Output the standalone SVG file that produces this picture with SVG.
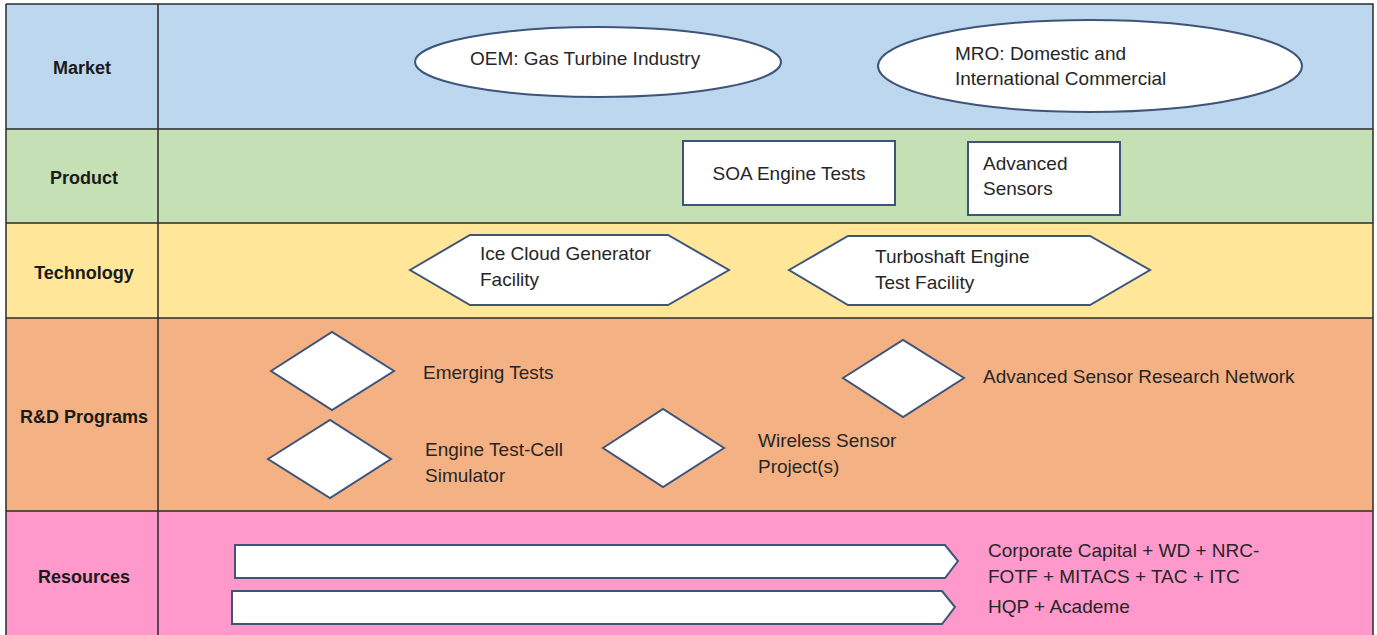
<svg xmlns="http://www.w3.org/2000/svg" width="1377" height="635" viewBox="0 0 1377 635">
<style>
  .lbl{font-family:"Liberation Sans",Arial,sans-serif;font-weight:bold;font-size:18px;fill:#1a1a1a;text-anchor:middle}
  .t{font-family:"Liberation Sans",Arial,sans-serif;font-size:19px;fill:#262626}
  .shape{fill:#ffffff;stroke:#3f5479;stroke-width:2}
  .grid{stroke:#2b2b2b;stroke-width:1.5;fill:none}
</style>
<rect width="1377" height="635" fill="#ffffff"/>
<g id="rows">
  <rect x="6" y="4" width="1367" height="125" fill="#bdd7ee"/>
  <rect x="6" y="129" width="1367" height="94" fill="#c5e0b4"/>
  <rect x="6" y="223" width="1367" height="95" fill="#ffe699"/>
  <rect x="6" y="318" width="1367" height="193" fill="#f4b183"/>
  <rect x="6" y="511" width="1367" height="124" fill="#ff99cc"/>
  <path class="grid" d="M6 4H1373V635M6 4V635M158 4V635M6 129H1373M6 223H1373M6 318H1373M6 511H1373"/>
  <text class="lbl" x="82" y="74">Market</text>
  <text class="lbl" x="84" y="184">Product</text>
  <text class="lbl" x="84" y="279">Technology</text>
  <text class="lbl" x="84" y="423">R&amp;D Programs</text>
  <text class="lbl" x="84" y="583">Resources</text>
</g>
<g id="oem">
  <ellipse class="shape" cx="598" cy="62" rx="183" ry="35"/>
  <text class="t" x="470" y="65">OEM: Gas Turbine Industry</text>
</g>
<g id="mro">
  <ellipse class="shape" cx="1090" cy="66" rx="212" ry="46"/>
  <text class="t" x="955" y="60">MRO: Domestic and</text>
  <text class="t" x="955" y="85">International Commercial</text>
</g>
<g id="soa">
  <rect class="shape" x="683" y="141" width="212" height="64"/>
  <text class="t" x="789" y="180" text-anchor="middle">SOA Engine Tests</text>
</g>
<g id="advsensors">
  <rect class="shape" x="968" y="142" width="152" height="73"/>
  <text class="t" x="983" y="170">Advanced</text>
  <text class="t" x="983" y="195">Sensors</text>
</g>
<g id="icecloud">
  <polygon class="shape" points="410,270 470,235 668,235 729,270 668,305 470,305"/>
  <text class="t" x="480" y="260">Ice Cloud Generator</text>
  <text class="t" x="480" y="286">Facility</text>
</g>
<g id="turboshaft">
  <polygon class="shape" points="789,270 848,236 1090,236 1150,270 1090,305 848,305"/>
  <text class="t" x="875" y="263">Turboshaft Engine</text>
  <text class="t" x="875" y="289">Test Facility</text>
</g>
<g id="emerging">
  <polygon class="shape" points="271,371 332,332 394,371 332,410"/>
  <text class="t" x="423" y="379">Emerging Tests</text>
</g>
<g id="testcell">
  <polygon class="shape" points="268,459 330,420 391,459 330,498"/>
  <text class="t" x="425" y="456">Engine Test-Cell</text>
  <text class="t" x="425" y="482">Simulator</text>
</g>
<g id="wireless">
  <polygon class="shape" points="603,448 663,409 724,448 663,487"/>
  <text class="t" x="758" y="447">Wireless Sensor</text>
  <text class="t" x="758" y="473">Project(s)</text>
</g>
<g id="asrn">
  <polygon class="shape" points="843,378 903,340 964,378 903,417"/>
  <text class="t" x="983" y="383">Advanced Sensor Research Network</text>
</g>
<g id="capital">
  <polygon class="shape" points="235,545 945,545 958,561 945,578 235,578"/>
  <text class="t" x="988" y="557">Corporate Capital + WD + NRC-</text>
  <text class="t" x="988" y="583">FOTF + MITACS + TAC + ITC</text>
</g>
<g id="hqp">
  <polygon class="shape" points="232,591 942,591 955,607 942,624 232,624"/>
  <text class="t" x="988" y="613">HQP + Academe</text>
</g>
<g id="connectors"></g>
</svg>
